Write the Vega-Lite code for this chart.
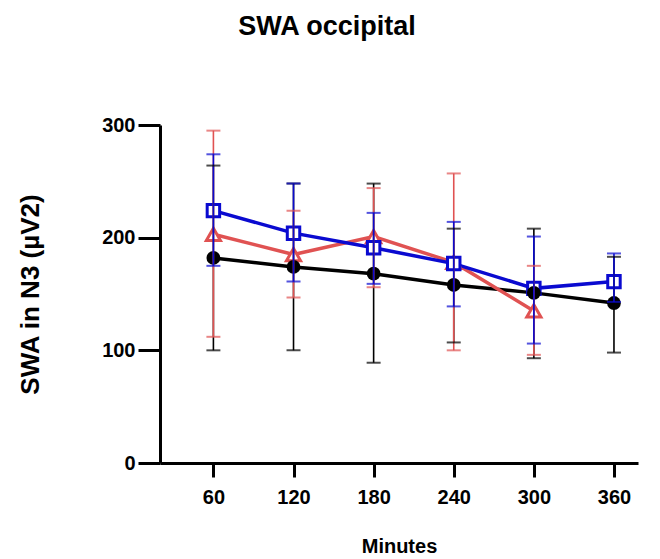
{
  "$schema": "https://vega.github.io/schema/vega-lite/v6.json",
  "autosize": "none",
  "width": 478,
  "height": 338,
  "padding": {"left": 160, "top": 125, "right": 22, "bottom": 96},
  "background": "white",
  "title": {
    "text": "SWA occipital",
    "font": "Liberation Sans",
    "fontSize": 27,
    "fontWeight": "bold",
    "color": "black",
    "anchor": "middle",
    "dx": -72,
    "offset": 74
  },
  "config": {
    "view": {"stroke": null},
    "axis": {
      "grid": false,
      "domainColor": "black",
      "domainWidth": 3,
      "tickColor": "black",
      "tickWidth": 3,
      "labelFont": "Liberation Sans",
      "labelFontWeight": "bold",
      "labelFontSize": 20,
      "labelColor": "black",
      "titleFont": "Liberation Sans",
      "titleFontWeight": "bold",
      "titleColor": "black"
    }
  },
  "data": {
    "values": [
      {"group": "black", "minutes": 60, "mean": 182, "lower": 100, "upper": 264},
      {"group": "black", "minutes": 120, "mean": 174, "lower": 100, "upper": 248},
      {"group": "black", "minutes": 180, "mean": 168, "lower": 89, "upper": 248},
      {"group": "black", "minutes": 240, "mean": 158, "lower": 107, "upper": 208},
      {"group": "black", "minutes": 300, "mean": 151, "lower": 93, "upper": 208},
      {"group": "black", "minutes": 360, "mean": 142, "lower": 98, "upper": 183},
      {"group": "red", "minutes": 60, "mean": 203, "lower": 112, "upper": 295},
      {"group": "red", "minutes": 120, "mean": 185, "lower": 147, "upper": 224},
      {"group": "red", "minutes": 180, "mean": 201, "lower": 156, "upper": 244},
      {"group": "red", "minutes": 240, "mean": 178, "lower": 100, "upper": 257},
      {"group": "red", "minutes": 300, "mean": 135, "lower": 96, "upper": 175},
      {"group": "blue", "minutes": 60, "mean": 224, "lower": 175, "upper": 274},
      {"group": "blue", "minutes": 120, "mean": 204, "lower": 161, "upper": 248},
      {"group": "blue", "minutes": 180, "mean": 191, "lower": 159, "upper": 222},
      {"group": "blue", "minutes": 240, "mean": 177, "lower": 139, "upper": 214},
      {"group": "blue", "minutes": 300, "mean": 155, "lower": 106, "upper": 201},
      {"group": "blue", "minutes": 360, "mean": 161, "lower": 143, "upper": 186}
    ]
  },
  "encoding": {
    "x": {
      "field": "minutes",
      "type": "quantitative",
      "scale": {"domain": [20, 378], "nice": false, "zero": false},
      "axis": {
        "values": [60, 120, 180, 240, 300, 360],
        "tickSize": 14,
        "labelPadding": 10,
        "title": "Minutes",
        "titleFontSize": 20,
        "titlePadding": 29
      }
    },
    "y": {
      "field": "mean",
      "type": "quantitative",
      "scale": {"domain": [0, 300], "nice": false},
      "axis": {
        "values": [0, 100, 200, 300],
        "tickSize": 22,
        "labelPadding": 3,
        "title": "SWA in N3 (µV2)",
        "titleFontSize": 26,
        "titlePadding": 58
      }
    }
  },
  "layer": [
    {
      "mark": {"type": "line"},
      "encoding": {
        "detail": {"field": "group"},
        "color": {"field": "group", "type": "nominal", "legend": null,
          "scale": {"domain": ["red", "blue", "black"], "range": ["#e05252", "#0a0ad0", "#000000"]}},
        "strokeWidth": {"field": "group", "type": "nominal", "legend": null,
          "scale": {"domain": ["red", "blue", "black"], "range": [3.5, 3.5, 2.8]}},
        "order": {"field": "minutes"}
      }
    },
    {
      "transform": [{"filter": "datum.group === 'red'"}],
      "mark": {"type": "point", "shape": "triangle-up", "size": 200, "filled": false, "fill": "white", "fillOpacity": 1, "stroke": "#e05252", "strokeWidth": 3, "opacity": 1}
    },
    {
      "transform": [{"filter": "datum.group === 'blue'"}],
      "mark": {"type": "point", "shape": "square", "size": 155, "filled": false, "fill": "white", "fillOpacity": 1, "stroke": "#0a0ad0", "strokeWidth": 3, "opacity": 1}
    },
    {
      "transform": [{"filter": "datum.group === 'black'"}],
      "mark": {"type": "point", "shape": "circle", "size": 190, "filled": true, "color": "black", "opacity": 1}
    },
    {
      "mark": {"type": "rule", "strokeWidth": 1.6},
      "encoding": {
        "y": {"field": "lower", "type": "quantitative"},
        "y2": {"field": "upper"},
        "color": {"field": "group", "type": "nominal", "legend": null,
          "scale": {"domain": ["red", "blue", "black"], "range": ["#e27070", "#1a1a8a", "#000000"]}}
      }
    },
    {
      "mark": {"type": "tick", "orient": "horizontal", "size": 14, "thickness": 2},
      "encoding": {
        "y": {"field": "upper", "type": "quantitative"},
        "color": {"field": "group", "type": "nominal", "legend": null,
          "scale": {"domain": ["red", "blue", "black"], "range": ["#e27070", "#1a1a8a", "#000000"]}}
      }
    },
    {
      "mark": {"type": "tick", "orient": "horizontal", "size": 14, "thickness": 2},
      "encoding": {
        "y": {"field": "lower", "type": "quantitative"},
        "color": {"field": "group", "type": "nominal", "legend": null,
          "scale": {"domain": ["red", "blue", "black"], "range": ["#e27070", "#1a1a8a", "#000000"]}}
      }
    }
  ]
}
